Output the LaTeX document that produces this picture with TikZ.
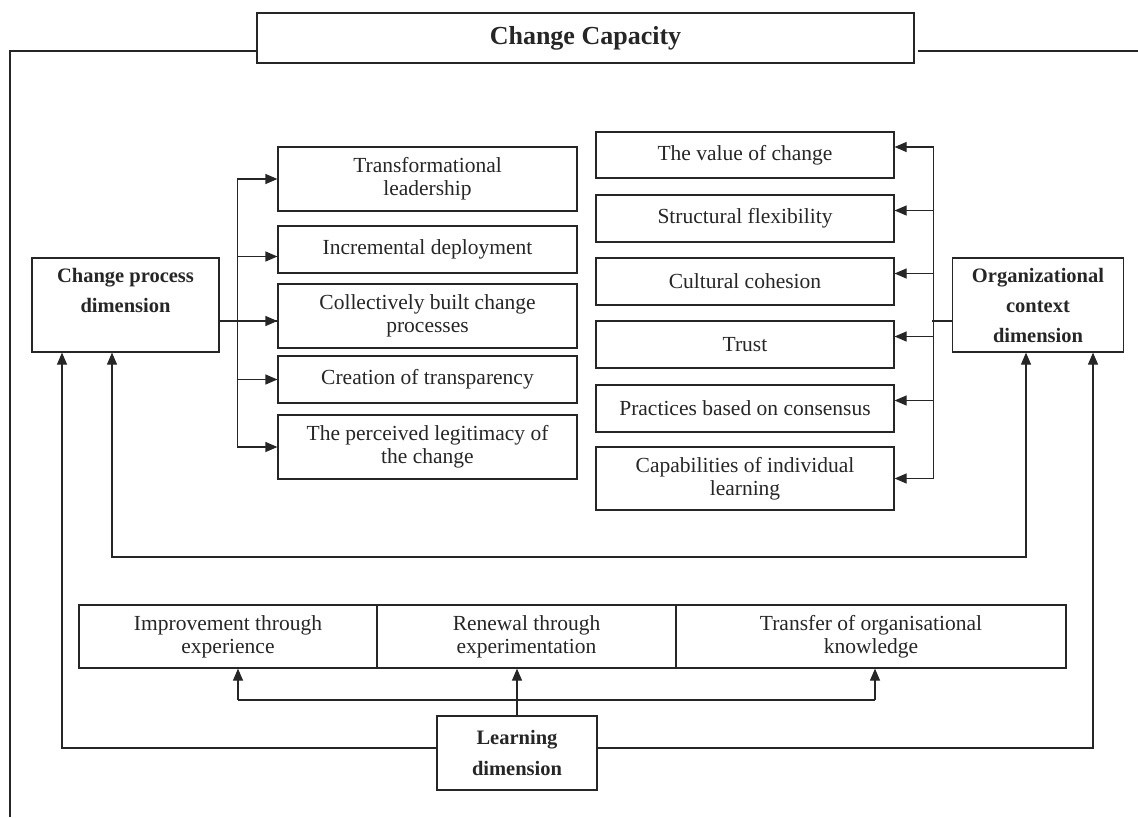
\documentclass[tikz,border=0pt]{standalone}
\usepackage{fontspec}
\setmainfont{Liberation Serif}
\usetikzlibrary{arrows.meta}
\begin{document}
\begin{tikzpicture}[x=1pt,y=-1pt,line width=1.2pt,color=black!85,
  box/.style={draw,rectangle,inner sep=0pt,align=center,
    font=\fontsize{21.5}{23}\selectfont},
  lbox/.style={box,minimum width=299,minimum height=#1},
  rbox/.style={box,minimum width=298,minimum height=#1},
  bbox/.style={box,minimum height=63},
  dim/.style={draw,rectangle,inner sep=0pt,align=center,
    font=\fontsize{20.5}{30}\selectfont\bfseries},
  tip/.tip={Triangle[length=12pt,width=10pt]},
  arr/.style={-tip},
  biarr/.style={tip-tip}]
\useasboundingbox (0,0) rectangle (1138,817);

% title and outer frame
\node[dim,minimum width=657,minimum height=50,font=\fontsize{26}{30}\selectfont\bfseries]
  (cap) at (585.5,38) {Change Capacity};
\coordinate (fbl) at (10,817);
\coordinate (ftl) at (10,51);
\coordinate (ftr) at (1138,51);
\draw (fbl) -- (ftl) -- (ftl -| cap.west);
\draw ([xshift=3pt]cap.east |- ftr) -- (ftr);

% dimensions
\node[dim,minimum width=187,minimum height=94] (cp) at (125.5,305)
  {Change process\\dimension\\\mbox{}};
\node[dim,minimum width=171,minimum height=94] (org) at (1038,305)
  {Organizational\\context\\dimension};
\node[dim,minimum width=160,minimum height=74,font=\fontsize{20.5}{31}\selectfont\bfseries]
  (lrn) at (517,753) {Learning\\dimension};

% change process elements
\node[lbox=64] (t1) at (427.5,179) {Transformational\\leadership};
\node[lbox=47] (t2) at (427.5,249.5) {Incremental deployment};
\node[lbox=64] (t3) at (427.5,316) {Collectively built change\\processes};
\node[lbox=47] (t4) at (427.5,379.5) {Creation of transparency};
\node[lbox=64] (t5) at (427.5,447) {The perceived legitimacy of\\the change};

% organizational context elements
\node[rbox=46] (r1) at (745,155) {The value of change};
\node[rbox=47] (r2) at (745,218.5) {Structural flexibility};
\node[rbox=47] (r3) at (745,281.5) {Cultural cohesion};
\node[rbox=47] (r4) at (745,344.5) {Trust};
\node[rbox=47] (r5) at (745,408.5) {Practices based on consensus};
\node[rbox=63] (r6) at (745,478.5) {Capabilities of individual\\learning};

% learning elements
\node[bbox,minimum width=298] (b1) at (228,636.5) {Improvement through\\experience};
\node[bbox,minimum width=299] (b2) at (526.5,636.5) {Renewal through\\experimentation};
\node[bbox,minimum width=390] (b3) at (871,636.5) {Transfer of organisational\\knowledge};

% change process branch
\draw ([yshift=-16pt]cp.east) -- ([yshift=-5pt]t3.west);
\draw ([xshift=-40pt]t1.west) -- ([xshift=-40pt]t5.west);
\draw[arr] ([xshift=-40pt]t1.west) -- (t1.west);
\draw[arr] ([xshift=-40pt,yshift=-7pt]t2.west) -- ([yshift=-7pt]t2.west);
\draw[arr] ([xshift=-40pt,yshift=-5pt]t3.west) -- ([yshift=-5pt]t3.west);
\draw[arr] ([xshift=-40pt]t4.west) -- (t4.west);
\draw[arr] ([xshift=-40pt]t5.west) -- (t5.west);

% organizational context branch
\draw ([yshift=-16pt]org.west) -- ([yshift=-16pt,xshift=-20pt]org.west);
\draw ([xshift=39pt,yshift=8pt]r1.east) -- ([xshift=39pt]r6.east);
\draw[arr] ([xshift=39pt,yshift=8pt]r1.east) -- ([yshift=8pt]r1.east);
\draw[arr] ([xshift=39pt,yshift=8pt]r2.east) -- ([yshift=8pt]r2.east);
\draw[arr] ([xshift=39pt,yshift=8pt]r3.east) -- ([yshift=8pt]r3.east);
\draw[arr] ([xshift=39pt,yshift=8pt]r4.east) -- ([yshift=8pt]r4.east);
\draw[arr] ([xshift=39pt,yshift=8pt]r5.east) -- ([yshift=8pt]r5.east);
\draw[arr] ([xshift=39pt]r6.east) -- (r6.east);

% link between the two dimensions
\coordinate (link) at (560,557);
\draw[biarr] ([xshift=-13.5pt]cp.south) |- (link) -| ([xshift=-12pt]org.south);

% learning dimension feeds
\coordinate (bl) at (238,700);
\coordinate (br) at (875,700);
\draw (bl) -- (br);
\draw[arr] (bl) -- (bl |- b1.south);
\draw[arr] (br) -- (br |- b3.south);
\draw[arr] (lrn.north) -- (lrn.north |- b2.south);
\draw[arr] ([yshift=5pt]lrn.west) -| ([xshift=-63.5pt]cp.south);
\draw[arr] ([yshift=5pt]lrn.east) -| ([xshift=55pt]org.south);
\end{tikzpicture}
\end{document}
